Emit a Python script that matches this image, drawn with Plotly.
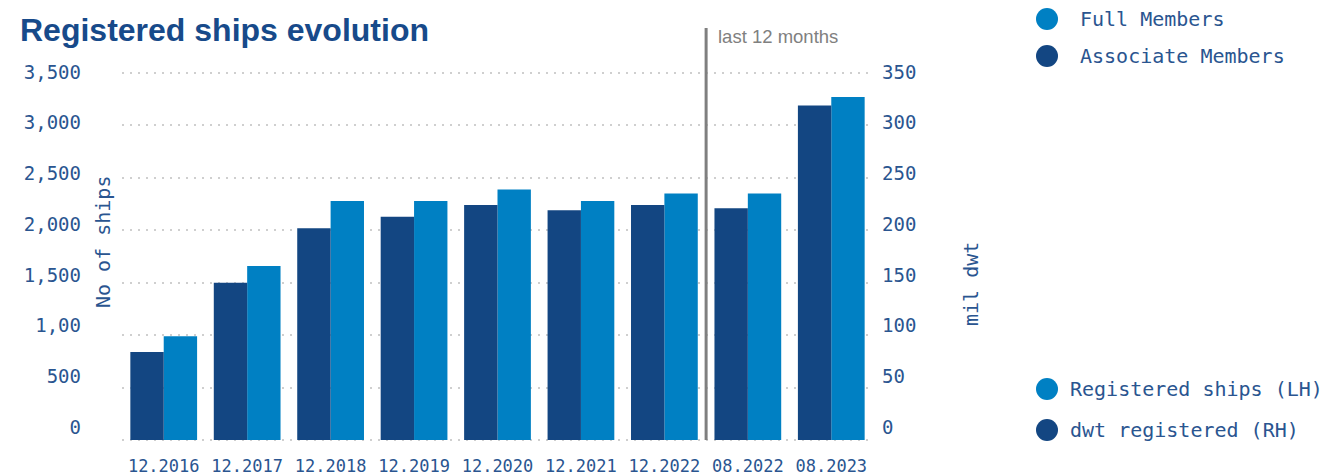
import plotly.graph_objects as go

# ---- data ----
categories = ["12.2016", "12.2017", "12.2018", "12.2019", "12.2020",
              "12.2021", "12.2022", "08.2022", "08.2023"]
registered_ships = [990, 1660, 2280, 2280, 2390, 2280, 2350, 2350, 3270]
dwt_registered = [84, 150, 202, 213, 224, 219, 224, 221, 319]

left_tickvals = [0, 500, 1000, 1500, 2000, 2500, 3000, 3500]
left_ticktext = ["0", "500", "1,00", "1,500", "2,000", "2,500", "3,000", "3,500"]
right_tickvals = [0, 50, 100, 150, 200, 250, 300, 350]
right_ticktext = ["0", "50", "100", "150", "200", "250", "300", "350"]

title_text = "Registered ships evolution"
divider_text = "last 12 months"
top_legend = ["Full Members", "Associate Members"]
bottom_legend = ["Registered ships (LH)", "dwt registered (RH)"]

# ---- style ----
W, H = 1323, 475
L, R, T, B = 122, 450, 71, 33          # plot area padded 2px beyond grid ends
PW, PH = W - L - R, H - T - B
DARK = "#134682"
LIGHT = "#0080C3"
TXT = "#2A5590"
MONO = "DejaVu Sans Mono"

# axis ranges (2px padding so the end grid lines are drawn)
pad_units = 3500 / 367 * 2
y_range = [-pad_units, 3500 + pad_units]
y2_range = [-pad_units / 10, 350 + pad_units / 10]


def px(xp):
    return (xp - L) / PW


def py(yp):
    return (H - B - yp) / PH


# label axes: tick labels sit on a slightly compressed scale (as in reference)
def label_range(top_val, pix_zero, pix_top):
    bottom_pix = H - B
    units_per_px = top_val / (pix_zero - pix_top)
    lo = -(bottom_pix - pix_zero) * units_per_px
    hi = lo + PH * units_per_px
    return [lo, hi]


y3_range = label_range(3500, 427, 72)
y4_range = label_range(350, 427, 72)

fig = go.Figure()
fig.add_trace(go.Bar(x=categories, y=dwt_registered, name=bottom_legend[1],
                     marker=dict(color=DARK, line=dict(width=0)),
                     yaxis="y2", offsetgroup="dwt", alignmentgroup="g",
                     showlegend=False))
fig.add_trace(go.Bar(x=categories, y=registered_ships, name=bottom_legend[0],
                     marker=dict(color=LIGHT, line=dict(width=0)),
                     yaxis="y", offsetgroup="ships", alignmentgroup="g",
                     showlegend=False))
# empty traces that only register the tick-label axes
fig.add_trace(go.Scatter(x=[], y=[], yaxis="y3", showlegend=False, hoverinfo="skip"))
fig.add_trace(go.Scatter(x=[], y=[], yaxis="y4", showlegend=False, hoverinfo="skip"))

grid = dict(showgrid=True, gridcolor="#cfcfcf", gridwidth=2, griddash="2px,6px")

fig.update_layout(
    width=W, height=H,
    margin=dict(l=L, r=R, t=T, b=B, autoexpand=False),
    paper_bgcolor="white", plot_bgcolor="white",
    barmode="group", bargap=0.2, bargroupgap=0,
    showlegend=False,
    title=dict(text="<b>" + title_text + "</b>", xref="container", yref="container",
               x=20 / W, xanchor="left", y=1 - 30 / H, yanchor="middle",
               font=dict(family="Liberation Sans", size=32, color="#174A8A")),
    xaxis=dict(type="category", range=[-0.5, 8.5], showgrid=False, zeroline=False,
               showline=False, ticks="", ticklabelstandoff=12, automargin=False,
               tickfont=dict(family=MONO, size=17, color=TXT)),
    yaxis=dict(range=y_range, tickvals=left_tickvals, showticklabels=False,
               zeroline=False, showline=False, automargin=False, **grid),
    yaxis2=dict(range=y2_range, overlaying="y", side="right", anchor="x",
                showgrid=False, zeroline=False, showticklabels=False, automargin=False),
    yaxis3=dict(range=y3_range, overlaying="y", side="left", anchor="x",
                tickvals=left_tickvals, ticktext=left_ticktext, showgrid=False,
                zeroline=False, showline=False, ticklabelstandoff=40, automargin=False,
                tickfont=dict(family=MONO, size=19, color=TXT)),
    yaxis4=dict(range=y4_range, overlaying="y", side="right", anchor="x",
                tickvals=right_tickvals, ticktext=right_ticktext, showgrid=False,
                zeroline=False, showline=False, ticklabelstandoff=8, automargin=False,
                tickfont=dict(family=MONO, size=19, color=TXT)),
)

# divider line + label
fig.add_shape(type="line", xref="x", yref="paper", x0=6.5, x1=6.5, y0=py(440), y1=py(28),
              line=dict(color="#7f7f7f", width=3))
fig.add_annotation(text=divider_text, xref="paper", yref="paper", x=px(716), y=py(36),
                   xanchor="left", yanchor="middle", showarrow=False,
                   font=dict(family="Liberation Sans", size=18.5, color="#808080"))

# axis titles
fig.add_annotation(text="No of ships", xref="paper", yref="paper", x=px(103), y=py(242),
                   textangle=-90, showarrow=False, xanchor="center", yanchor="middle",
                   font=dict(family=MONO, size=20, color=TXT))
fig.add_annotation(text="mil dwt", xref="paper", yref="paper", x=px(971), y=py(284),
                   textangle=-90, showarrow=False, xanchor="center", yanchor="middle",
                   font=dict(family=MONO, size=20, color=TXT))

# legends (circle markers + labels)
legend_items = [
    (top_legend[0], LIGHT, 19, 1078),
    (top_legend[1], DARK, 56, 1078),
    (bottom_legend[0], LIGHT, 389, 1068),
    (bottom_legend[1], DARK, 430, 1068),
]
for label, col, yc, xt in legend_items:
    fig.add_shape(type="circle", xref="paper", yref="paper",
                  xsizemode="pixel", ysizemode="pixel",
                  xanchor=px(1047), yanchor=py(yc),
                  x0=-11, x1=11, y0=-11, y1=11,
                  fillcolor=col, line=dict(width=0))
    fig.add_annotation(text=label, xref="paper", yref="paper", x=px(xt), y=py(yc),
                       xanchor="left", yanchor="middle", showarrow=False,
                       font=dict(family=MONO, size=20, color=TXT))

fig.write_html("out.html")
